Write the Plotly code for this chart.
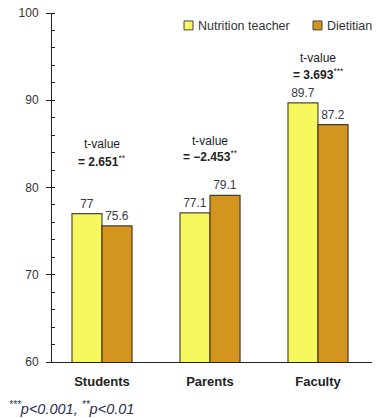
import plotly.graph_objects as go

categories = ["Students", "Parents", "Faculty"]
nutrition_teacher = [77, 77.1, 89.7]
dietitian = [75.6, 79.1, 87.2]
t_values = ["2.651", "−2.453", "3.693"]
t_stars = ["**", "**", "***"]
series_names = ["Nutrition teacher", "Dietitian"]
series_colors = ["#F7F75E", "#D4951F"]

# annotation placement (layout, in axis units)
t_label_y = [85.0, 85.3, 94.9]
t_value_y = [83.0, 83.6, 93.05]

# plot area in pixels (for the hand-placed legend)
L, R, T, B = 52, 372, 11, 362
def px_x(px):
    return (px - L) / (R - L)
def px_y(py):
    return (B - py) / (B - T)

fig = go.Figure()
for name, vals, col, lc in zip(series_names, [nutrition_teacher, dietitian], series_colors,
                               ["#4a4a3a", "#4a3a2a"]):
    fig.add_bar(name=name, x=categories, y=vals,
                marker=dict(color=col, line=dict(color=lc, width=1.2)),
                text=[str(v) for v in vals], textposition="outside",
                textfont=dict(size=12, color="#3a3a4a"), cliponaxis=False,
                showlegend=False)

for c, ly, vy, tv, st in zip(categories, t_label_y, t_value_y, t_values, t_stars):
    fig.add_annotation(x=c, y=ly, text="t-value", showarrow=False,
                       font=dict(size=12, color="#222"), yanchor="middle")
    fig.add_annotation(x=c, y=vy, text="<b>= " + tv + "</b><sup>" + st + "</sup>",
                       showarrow=False, font=dict(size=12, color="#222"), yanchor="middle")

# legend drawn by hand
legend_sq_left = [184, 313]
for name, col, sx in zip(series_names, series_colors, legend_sq_left):
    fig.add_shape(type="rect", xref="paper", yref="paper",
                  x0=px_x(sx), x1=px_x(sx + 9), y0=px_y(28), y1=px_y(19),
                  fillcolor=col, line=dict(color="#444", width=1))
    fig.add_annotation(xref="paper", yref="paper", x=px_x(sx + 12), y=px_y(24),
                       xanchor="left", yanchor="middle", text=name, showarrow=False,
                       font=dict(size=12.5, color="#333"))

fig.add_annotation(xref="paper", yref="paper", x=px_x(7), y=px_y(408), xanchor="left", yanchor="middle",
                   text="<i><sup>***</sup>p<0.001, <sup>**</sup>p<0.01</i>", showarrow=False,
                   font=dict(size=14.5, color="#2a3050"))

fig.update_layout(
    width=378, height=418,
    margin=dict(l=L, r=378 - R, t=T, b=418 - B),
    paper_bgcolor="white", plot_bgcolor="white",
    font=dict(family="Liberation Sans, Arial, sans-serif", color="#333"),
    barmode="group", bargap=0.444, bargroupgap=0,
    showlegend=False,
)
fig.update_yaxes(range=[60, 100], dtick=10, showgrid=False, showline=True, linecolor="#222",
                 linewidth=1, ticks="outside", ticklen=5, tickcolor="#222",
                 ticklabelstandoff=5,
                 tickfont=dict(size=12, color="#333"),
                 minor=dict(dtick=2, ticks="inside", ticklen=3, tickcolor="#222"),
                 zeroline=False)
fig.update_xaxes(showline=True, linecolor="#222", linewidth=1, ticks="", showgrid=False,
                 range=[-0.463, 2.5],
                 ticklabelstandoff=7,
                 tickfont=dict(size=13, color="#222", family="Liberation Sans, Arial, sans-serif"),
                 tickvals=categories, ticktext=["<b>" + c + "</b>" for c in categories])

fig.write_html("out.html", config={"displayModeBar": False},
               post_script="document.body.style.margin='0';")
